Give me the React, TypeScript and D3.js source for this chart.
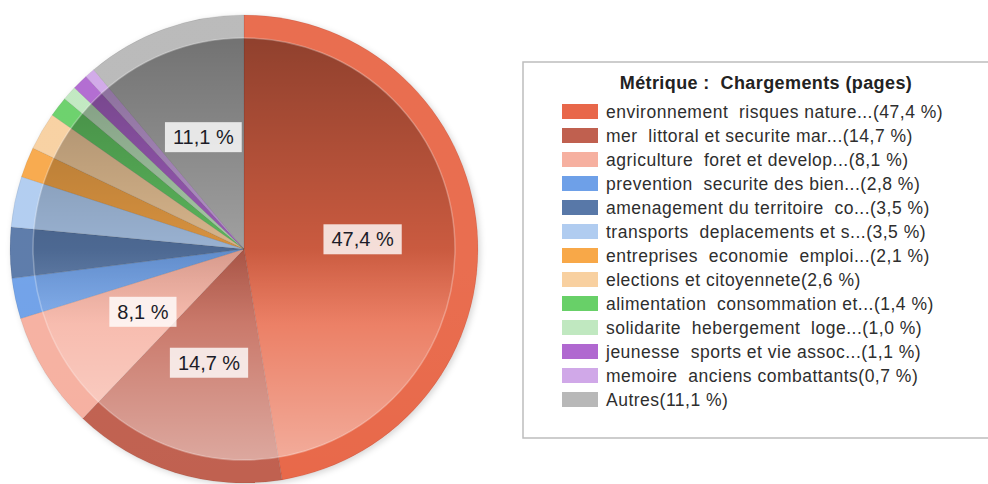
import React, { useEffect, useRef } from "react";
import * as d3 from "d3";

const categories: string[] = [
  "environnement  risques nature...",
  "mer  littoral et securite mar...",
  "agriculture  foret et develop...",
  "prevention  securite des bien...",
  "amenagement du territoire  co...",
  "transports  deplacements et s...",
  "entreprises  economie  emploi...",
  "elections et citoyennete",
  "alimentation  consommation et...",
  "solidarite  hebergement  loge...",
  "jeunesse  sports et vie assoc...",
  "memoire  anciens combattants",
  "Autres",
];
const shares: number[] = [47.4, 14.7, 8.1, 2.8, 3.5, 3.5, 2.1, 2.6, 1.4, 1.0, 1.1, 0.7, 11.1];
const colors: string[] = [
  "#e8674a", "#c0604f", "#f6b0a0", "#6ea0e8", "#5878a8", "#b0ccf0", "#f8a848",
  "#f8d0a0", "#68d068", "#c0e8c0", "#b068d0", "#d0a8e8", "#b8b8b8",
];
const legendTitle = "Métrique :  Chargements (pages)";
const labelThreshold = 5;

const W = 988;
const H = 484;
const FONT = "'Liberation Sans', Arial, sans-serif";

const fmt = (v: number) => v.toFixed(1).replace(".", ",") + " %";

export default function App() {
  const ref = useRef<SVGSVGElement | null>(null);

  useEffect(() => {
    const svg = d3.select(ref.current);
    svg.selectAll("*").remove();

    const cx = 244, cy = 249, R = 234, rIn = 211, rLabel = 119;

    const defs = svg.append("defs");
    const dark = defs.append("linearGradient").attr("id", "darkG")
      .attr("gradientUnits", "userSpaceOnUse")
      .attr("x1", 0).attr("x2", 0).attr("y1", cy - rIn).attr("y2", cy + rIn);
    dark.append("stop").attr("offset", "0%").attr("stop-color", "#000").attr("stop-opacity", 0.38);
    dark.append("stop").attr("offset", "50%").attr("stop-color", "#000").attr("stop-opacity", 0.13);
    dark.append("stop").attr("offset", "68%").attr("stop-color", "#000").attr("stop-opacity", 0);
    const light = defs.append("linearGradient").attr("id", "lightG")
      .attr("gradientUnits", "userSpaceOnUse")
      .attr("x1", 0).attr("x2", 0).attr("y1", cy - rIn).attr("y2", cy + rIn);
    light.append("stop").attr("offset", "50%").attr("stop-color", "#fff").attr("stop-opacity", 0);
    light.append("stop").attr("offset", "100%").attr("stop-color", "#fff").attr("stop-opacity", 0.45);
    const rimG = defs.append("linearGradient").attr("id", "rimG")
      .attr("gradientUnits", "userSpaceOnUse")
      .attr("x1", 0).attr("x2", 0).attr("y1", cy - R).attr("y2", cy + R);
    rimG.append("stop").attr("offset", "0%").attr("stop-color", "#fff").attr("stop-opacity", 0.04);
    rimG.append("stop").attr("offset", "55%").attr("stop-color", "#fff").attr("stop-opacity", 0);
    rimG.append("stop").attr("offset", "100%").attr("stop-color", "#000").attr("stop-opacity", 0.07);

    const shadow = defs.append("filter").attr("id", "pieShadow")
      .attr("x", "-10%").attr("y", "-10%").attr("width", "120%").attr("height", "120%");
    shadow.append("feDropShadow").attr("dx", 2).attr("dy", 2).attr("stdDeviation", 3)
      .attr("flood-color", "#000").attr("flood-opacity", 0.16);

    const pie = d3.pie<number>().sort(null).value((d) => d);
    const arcs = pie(shares);
    const arcOuter = d3.arc<d3.PieArcDatum<number>>().innerRadius(0).outerRadius(R);
    const arcLabel = d3.arc<d3.PieArcDatum<number>>().innerRadius(rLabel).outerRadius(rLabel);

    const g = svg.append("g").attr("transform", `translate(${cx},${cy})`);
    const pg = g.append("g").attr("filter", "url(#pieShadow)");
    pg.selectAll("path.slice").data(arcs).enter().append("path")
      .attr("class", "slice")
      .attr("d", arcOuter)
      .attr("fill", (_d, i) => colors[i])
      .attr("stroke", "rgba(0,0,0,0.12)")
      .attr("stroke-width", 0.6);

    const ring = d3.arc()({ innerRadius: rIn, outerRadius: R, startAngle: 0, endAngle: 2 * Math.PI } as any) as string;
    g.append("path").attr("d", ring).attr("fill", "url(#rimG)");
    g.append("circle").attr("cx", 0).attr("cy", 0).attr("r", rIn)
      .attr("transform", `translate(${-cx},${-cy})`).attr("cx", cx).attr("cy", cy)
      .attr("fill", "url(#darkG)");
    g.append("circle").attr("r", rIn)
      .attr("transform", `translate(${-cx},${-cy})`).attr("cx", cx).attr("cy", cy)
      .attr("fill", "url(#lightG)");
    g.append("circle").attr("r", rIn).attr("fill", "none")
      .attr("stroke", "rgba(255,255,255,0.28)").attr("stroke-width", 1.5);

    const lg = g.append("g");
    arcs.forEach((a, i) => {
      if (shares[i] < labelThreshold) return;
      const [x, y] = arcLabel.centroid(a);
      const grp = lg.append("g").attr("transform", `translate(${x},${y})`);
      const rect = grp.append("rect").attr("fill", "rgba(255,255,255,0.8)");
      const t = grp.append("text")
        .attr("text-anchor", "middle")
        .attr("dy", "0.36em")
        .attr("font-family", FONT)
        .attr("font-size", 20)
        .attr("fill", "#1c1c28")
        .text(fmt(shares[i]));
      const w = (t.node() as SVGTextElement).getComputedTextLength();
      rect.attr("x", -w / 2 - 8).attr("y", -15).attr("width", w + 16).attr("height", 30);
    });

    const lx = 523, ly = 62, lw = 480, lh = 376;
    const leg = svg.append("g");
    leg.append("rect").attr("x", lx).attr("y", ly).attr("width", lw).attr("height", lh)
      .attr("fill", "#fff").attr("stroke", "#bdbdbd").attr("stroke-width", 1.5);
    leg.append("text").attr("x", 766).attr("y", 89)
      .attr("text-anchor", "middle")
      .attr("font-family", FONT).attr("font-weight", "bold").attr("font-size", 18)
      .attr("letter-spacing", 0.4)
      .attr("fill", "#222")
      .style("white-space", "pre")
      .text(legendTitle);
    const rowY = d3.scaleLinear().domain([0, 1]).range([112, 136]);
    categories.forEach((c, i) => {
      const y = rowY(i);
      leg.append("rect").attr("x", 562).attr("y", y - 8).attr("width", 36).attr("height", 15)
        .attr("fill", colors[i]);
      leg.append("text").attr("x", 606).attr("y", y).attr("dy", "0.36em")
        .attr("font-family", FONT).attr("font-size", 17.5).attr("fill", "#2e2e2e")
        .attr("letter-spacing", 0.5)
        .style("white-space", "pre")
        .text(`${c}(${fmt(shares[i])})`);
    });
  }, []);

  return (
    <svg
      ref={ref}
      width={W}
      height={H}
      style={{ position: "absolute", left: 0, top: 0, background: "#fff" }}
    />
  );
}
